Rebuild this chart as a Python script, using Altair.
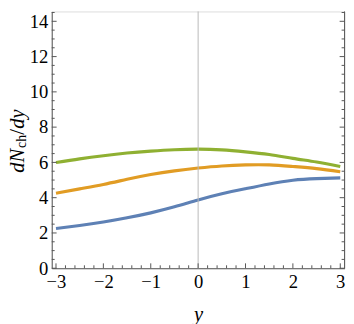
import altair as alt
import pandas as pd

# ---- data ----
xs = [-3, -2.5, -2, -1.5, -1, -0.5, 0, 0.5, 1, 1.5, 2, 2.5, 3]
blue = [2.25, 2.42, 2.62, 2.86, 3.14, 3.48, 3.87, 4.22, 4.51, 4.78, 4.99, 5.08, 5.12]
orange = [4.25, 4.50, 4.75, 5.04, 5.31, 5.52, 5.68, 5.80, 5.86, 5.86, 5.77, 5.65, 5.47]
green = [5.99, 6.20, 6.38, 6.53, 6.64, 6.72, 6.75, 6.71, 6.60, 6.45, 6.23, 6.02, 5.77]
series_names = ["s1", "s2", "s3"]
series_colors = ["#5E81B5", "#E19C24", "#8FB032"]

x_major = [-3, -2, -1, 0, 1, 2, 3]
y_major = [0, 2, 4, 6, 8, 10, 12, 14]

X_DOMAIN = [-3.09, 3.09]
Y_DOMAIN = [0, 14.56]
W, H = 299.3, 262.5
FONT = "Liberation Serif"
FRAME = "#555555"

rows = []
for name, vals in zip(series_names, [blue, orange, green]):
    for x, v in zip(xs, vals):
        rows.append({"x": x, "v": v, "s": name})
df = pd.DataFrame(rows)

x_minor = [round(-3 + 0.2 * i, 2) for i in range(31)]
x_minor = [v for v in x_minor if abs(v - round(v)) > 1e-6]
y_minor = [0.5 * i for i in range(30)]
y_minor = [v for v in y_minor if v % 2 != 0]

xs_scale = alt.Scale(domain=X_DOMAIN, nice=False, zero=False)
ys_scale = alt.Scale(domain=Y_DOMAIN, nice=False, zero=False)

x_axis = alt.Axis(values=x_major, ticks=False, domain=True, domainColor=FRAME,
                  domainWidth=1, grid=False, labelFont=FONT, labelFontSize=19,
                  labelColor="black", labelPadding=5, labelOverlap=False,
                  title="y", titleFont=FONT, titleFontSize=21,
                  titleFontStyle="italic", titleFontWeight="normal",
                  titleColor="black", titlePadding=12)
y_axis = alt.Axis(values=y_major, ticks=False, domain=True, domainColor=FRAME,
                  domainWidth=1, grid=False, labelFont=FONT, labelFontSize=19,
                  labelColor="black", labelPadding=4, labelOverlap=False,
                  labelBound=False, title=None, format="d")

lines = alt.Chart(df).mark_line(strokeWidth=3.2, interpolate="natural").encode(
    x=alt.X("x:Q", scale=xs_scale, axis=x_axis),
    y=alt.Y("v:Q", scale=ys_scale, axis=y_axis),
    color=alt.Color("s:N", scale=alt.Scale(domain=series_names, range=series_colors), legend=None),
    order=alt.Order("x:Q"),
)

grid0 = alt.Chart(pd.DataFrame({"x": [0]})).mark_rule(color="#b9b9b9", strokeWidth=1).encode(
    x=alt.X("x:Q", scale=xs_scale, axis=x_axis), y=alt.value(0), y2=alt.value(H))

right_frame = alt.Chart(pd.DataFrame({"a": [0]})).mark_rule(color=FRAME, strokeWidth=1).encode(
    x=alt.value(W), y=alt.value(0), y2=alt.value(H))

def yticks(vals, length, side):
    d = pd.DataFrame({"v": vals})
    x0 = 0 if side == "left" else W
    x1 = length if side == "left" else W - length
    return alt.Chart(d).mark_rule(color=FRAME, strokeWidth=1).encode(
        y=alt.Y("v:Q", scale=ys_scale, axis=y_axis), x=alt.value(x0), x2=alt.value(x1))

def xticks(vals, length):
    d = pd.DataFrame({"v": vals})
    return alt.Chart(d).mark_rule(color=FRAME, strokeWidth=1).encode(
        x=alt.X("v:Q", scale=xs_scale, axis=x_axis), y=alt.value(H), y2=alt.value(H - length))

ticks = [
    yticks(y_major, 5, "left"), yticks(y_minor, 3, "left"),
    yticks(y_major, 5, "right"), yticks(y_minor, 3, "right"),
    xticks(x_major, 5), xticks(x_minor, 3),
]

def tpart(text, style, size, px, py):
    return alt.Chart(pd.DataFrame({"t": [text]})).mark_text(
        font=FONT, fontSize=size, fontStyle=style, angle=270, align="left",
        baseline="alphabetic", color="black").encode(
        text="t:N", x=alt.value(px), y=alt.value(py))

# y-axis title: dN_ch/dy built from pieces
ytitle = [
    tpart("dN", "italic", 21, -28.5, 165.0),
    tpart("ch", "normal", 14, -26.2, 139.5),
    tpart("/", "normal", 21, -28.5, 126.0),
    tpart("dy", "italic", 21, -28.5, 120.0),
]

chart = alt.layer(lines, grid0, *ticks, right_frame, *ytitle).properties(
    width=W, height=H,
    autosize=alt.AutoSizeParams(type="none"),
    padding={"left": 44.7, "top": 0, "right": 1.5, "bottom": 54},
).configure_view(stroke=None).configure(background="white")

chart.save("out.html", embed_options={"renderer": "svg", "actions": False})
